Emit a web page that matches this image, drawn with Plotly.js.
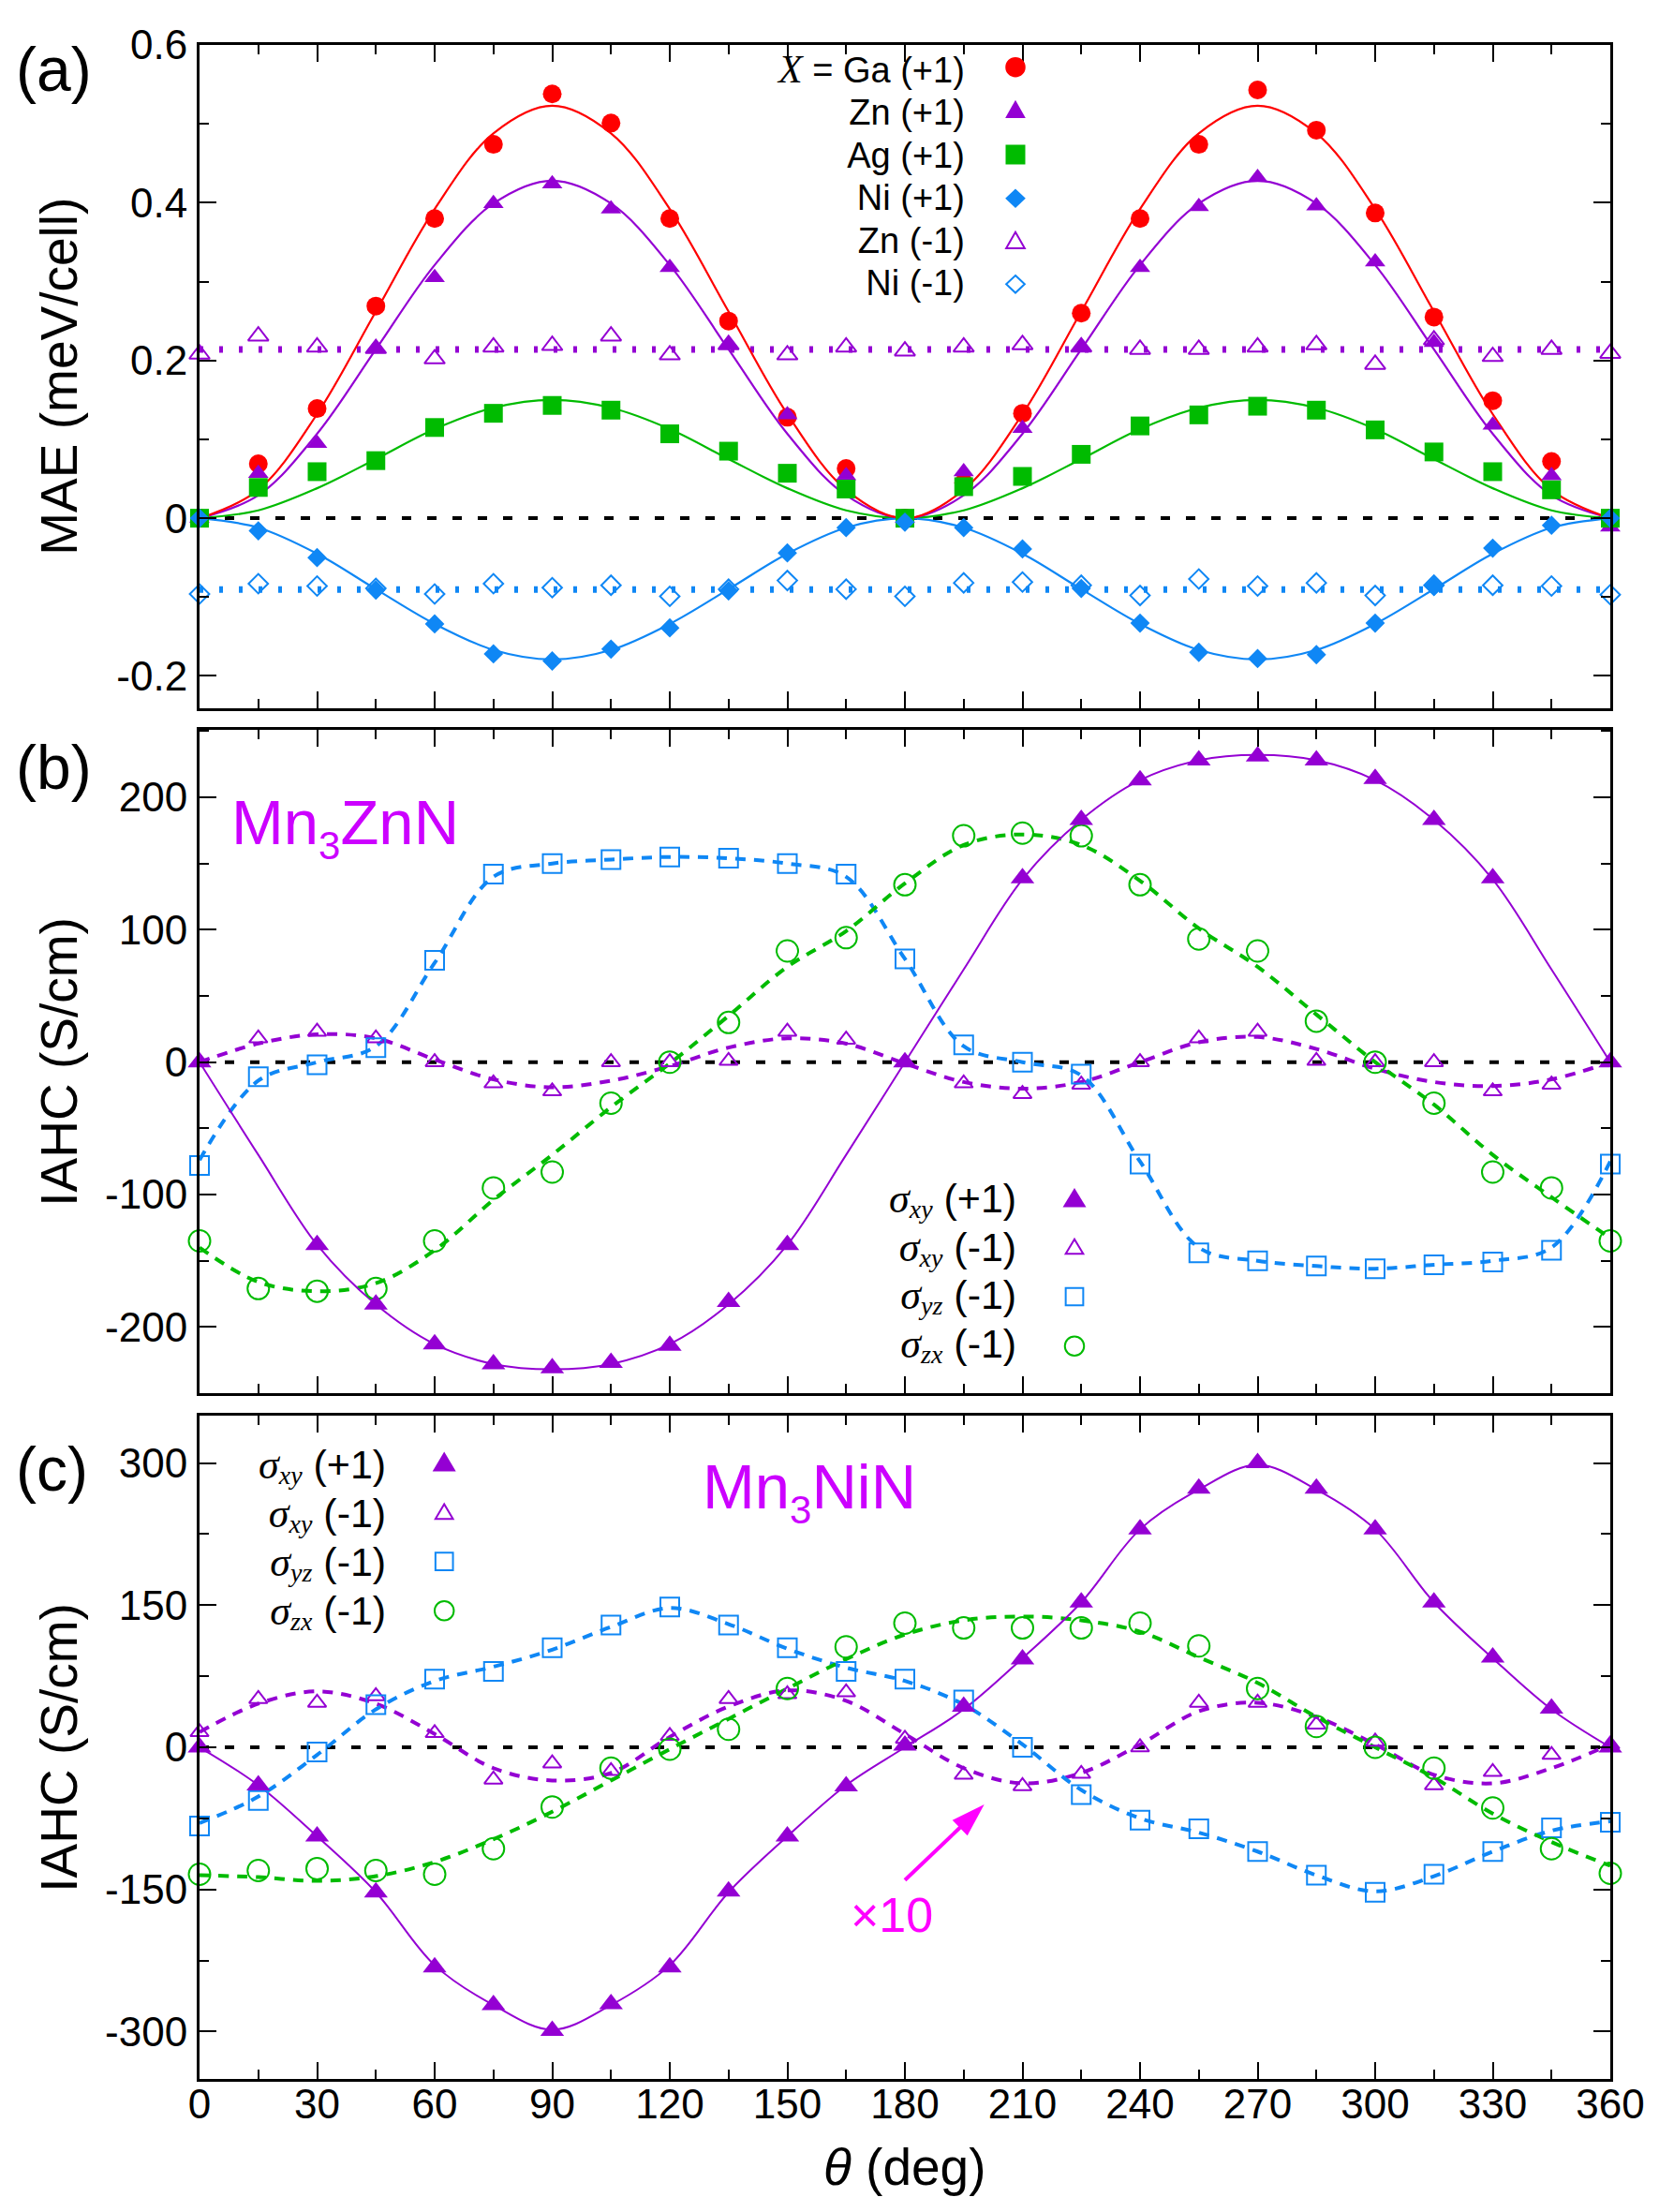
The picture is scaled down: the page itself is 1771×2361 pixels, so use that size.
<!DOCTYPE html>
<html>
<head>
<meta charset="utf-8">
<script src="https://cdn.plot.ly/plotly-3.0.1.min.js"></script>
<style>html,body{margin:0;padding:0;background:#fff;}#chart{width:1771px;height:2361px;}</style>
</head>
<body>
<div id="chart"></div>
<script>
// ---------------- data ----------------
const theta = [0,15,30,45,60,75,90,105,120,135,150,165,180,195,210,225,240,255,270,285,300,315,330,345,360];
const thetaEnds = [0, 360];
const thetaTicks = [0,30,60,90,120,150,180,210,240,270,300,330,360];
const thetaTickText = ['0','30','60','90','120','150','180','210','240','270','300','330','360'];

// (a) MAE (meV/cell)
const aTickVals = [-0.2, 0, 0.2, 0.4, 0.6];
const aTickText = ['-0.2', '0', '0.2', '0.4', '0.6'];
const aGaPlus  = [0,0.069,0.139,0.269,0.380,0.474,0.538,0.501,0.380,0.250,0.128,0.063,0,0.045,0.133,0.260,0.380,0.474,0.543,0.492,0.387,0.255,0.149,0.072,0];
const aZnPlus  = [0,0.057,0.095,0.215,0.305,0.399,0.424,0.392,0.318,0.220,0.131,0.054,0,0.059,0.114,0.217,0.318,0.395,0.432,0.396,0.325,0.223,0.118,0.054,-0.011];
const aAgPlus  = [0,0.039,0.059,0.073,0.115,0.133,0.143,0.137,0.107,0.085,0.057,0.037,0,0.040,0.053,0.081,0.117,0.131,0.142,0.137,0.112,0.084,0.059,0.036,0];
const aNiPlus  = [0,-0.016,-0.050,-0.091,-0.134,-0.172,-0.181,-0.166,-0.139,-0.092,-0.044,-0.012,-0.005,-0.012,-0.039,-0.089,-0.133,-0.170,-0.178,-0.173,-0.133,-0.086,-0.038,-0.009,0];
const aZnMinus = [0.208,0.231,0.217,0.215,0.202,0.217,0.219,0.231,0.207,0.220,0.207,0.217,0.212,0.217,0.220,0.217,0.214,0.214,0.217,0.220,0.195,0.226,0.205,0.214,0.209];
const aNiMinus = [-0.096,-0.083,-0.086,-0.089,-0.096,-0.083,-0.088,-0.085,-0.099,-0.090,-0.079,-0.090,-0.099,-0.082,-0.081,-0.085,-0.098,-0.077,-0.086,-0.082,-0.098,-0.085,-0.085,-0.086,-0.097];
const aGaFit = [0,0.036,0.132,0.262,0.392,0.488,0.523,0.488,0.392,0.262,0.132,0.036,0,0.036,0.132,0.262,0.392,0.488,0.523,0.488,0.392,0.262,0.132,0.036,0];
const aZnFit = [0,0.029,0.107,0.214,0.321,0.399,0.428,0.399,0.321,0.214,0.107,0.029,0,0.029,0.107,0.214,0.321,0.399,0.428,0.399,0.321,0.214,0.107,0.029,0];
const aAgFit = [0,0.010,0.038,0.075,0.113,0.140,0.150,0.140,0.113,0.075,0.038,0.010,0,0.010,0.038,0.075,0.113,0.140,0.150,0.140,0.113,0.075,0.038,0.010,0];
const aNiFit = [0,-0.012,-0.045,-0.090,-0.134,-0.167,-0.179,-0.167,-0.134,-0.090,-0.045,-0.012,0,-0.012,-0.045,-0.090,-0.134,-0.167,-0.179,-0.167,-0.134,-0.090,-0.045,-0.012,0];
const aZnMinusMean = [0.214, 0.214];
const aNiMinusMean = [-0.0905, -0.0905];
const aLegendLabels = ['Ga (+1)', 'Zn (+1)', 'Ag (+1)', 'Ni (+1)', 'Zn (-1)', 'Ni (-1)'];

// (b) Mn3ZnN IAHC (S/cm)
const bTickVals = [-200, -100, 0, 100, 200];
const bTickText = ['-200', '-100', '0', '100', '200'];
const bSxyPlus  = [0,null,-138,-183,-213,-228,-231,-227,-214,-181,-138,null,0,null,139,183,213,228,231,228,214,183,139,null,0];
const bSxyMinus = [0,18,23,18,0,-16,-22,0,0,1,23,17,0,-16,-24,-17,0,18,23,1,0,0,-22,-17,0];
const bSyzMinus = [-78,-11,-2,11,77,142,150,153,155,154,150,142,78,13,0,-9,-77,-144,-150,-154,-156,-153,-151,-142,-77];
const bSzxMinus = [-135,-171,-173,-171,-135,-95,-83,-31,0,30,84,94,134,171,173,171,134,93,84,31,0,-31,-83,-95,-135];
const bSxyPlusFit  = [0,-70,-138,-183,-213,-228,-232,-228,-213,-183,-138,-70,0,70,138,183,213,228,232,228,213,183,138,70,0];
const bSxyMinusFit = [0,14,21,18,2,-13,-19,-14,-3,11,18,14,-1,-15,-20,-15,0,15,19,10,-5,-15,-18,-13,0];
const bSyzMinusFit = [-74,-14,0,12,75,140,150,153,155,154,150,140,78,12,0,-10,-75,-140,-150,-154,-156,-153,-150,-140,-75];
const bSzxMinusFit = [-140,-166,-173,-167,-142,-104,-70,-34,-1,35,72,99,135,164,172,164,137,101,72,36,0,-32,-70,-102,-133];

// (c) Mn3NiN IAHC (S/cm)
const cTickVals = [-300, -150, 0, 150, 300];
const cTickText = ['-300', '-150', '0', '150', '300'];
const cSxyPlus  = [0,-40,-94,-153,-232,-272,-299,-271,-232,-152,-94,-41,2,43,93,153,230,273,300,273,230,153,95,41,0];
const cSxyMinus = [16,51,47,54,15,-34,-17,-25,12,51,56,58,9,-29,-41,-28,0,47,47,24,6,-40,-26,-8,3];
const cSyzMinus = [-83,-56,-5,45,72,80,105,129,148,129,105,80,72,50,0,-50,-77,-86,-110,-135,-153,-134,-110,-85,-79];
const cSzxMinus = [-134,-130,-128,-130,-134,-107,-63,-22,-2,19,62,106,131,126,126,126,131,107,62,22,0,-22,-64,-107,-133];
const cSxyPlusFit  = [0,-40,-94,-153,-230,-272,-298,-272,-230,-153,-94,-40,0,40,94,153,230,272,298,272,230,153,94,40,0];
const cSxyMinusFit = [16,46,59,46,14,-22,-35,-27,11,43,60,49,14,-22,-38,-27,3,38,47,32,3,-29,-38,-22,3];
const cSyzMinusFit = [-80,-52,-8,40,70,85,103,127,147,130,104,84,70,45,3,-45,-75,-90,-110,-135,-152,-136,-110,-88,-78];
const cSzxMinusFit = [-135,-137,-141,-136,-121,-97,-68,-35,-2,30,62,93,119,134,138,134,122,95,68,32,0,-32,-70,-100,-125];

const sigmaComponents = ['xy', 'xy', 'yz', 'zx'];
const sigmaSigns = ['(+1)', '(-1)', '(-1)', '(-1)'];

// ---------------- styles ----------------
const FONT = 'Liberation Sans, Arial, Helvetica, sans-serif';
const SERIF = 'Liberation Serif, Times New Roman, serif';
const RED = '#ff0000', PURPLE = '#9400d3', GREEN = '#00bb00', BLUE = '#0f87f5';
const LABEL_MAGENTA = '#cc00ff', PINK = '#ff00ff';

function fitLine(name, y, xa, ya, color, width, dash, x) {
  return {type:'scatter', mode:'lines', name: name, x: x || theta, y: y, xaxis: xa, yaxis: ya,
    line:{color:color, width:width, dash:dash || 'solid', shape: x ? 'linear' : 'spline', smoothing:1},
    showlegend:false, hoverinfo:'skip', cliponaxis:false};
}
function points(name, y, xa, ya, symbol, size, color) {
  const open = symbol.indexOf('open') >= 0;
  return {type:'scatter', mode:'markers', name: name, x: theta, y: y, xaxis: xa, yaxis: ya,
    marker:{symbol:symbol, size:size, color:color, line:{color:color, width: open ? 2 : 0}},
    showlegend:false, hoverinfo:'skip', cliponaxis:false};
}

const DOT = '4px,17px';
const DASH = '11px,9px';
const traces = [
  // (a)
  fitLine('Zn (-1) mean', aZnMinusMean, 'x', 'y', PURPLE, 7, DOT, thetaEnds),
  fitLine('Ni (-1) mean', aNiMinusMean, 'x', 'y', BLUE, 7, DOT, thetaEnds),
  fitLine('Ag (+1) fit', aAgFit, 'x', 'y', GREEN, 2.2),
  fitLine('Ni (+1) fit', aNiFit, 'x', 'y', BLUE, 2.2),
  fitLine('Zn (+1) fit', aZnFit, 'x', 'y', PURPLE, 2.2),
  fitLine('Ga (+1) fit', aGaFit, 'x', 'y', RED, 2.2),
  points('Zn (-1)', aZnMinus, 'x', 'y', 'triangle-up-open', 19, PURPLE),
  points('Ni (-1)', aNiMinus, 'x', 'y', 'diamond-open', 16, BLUE),
  points('Ga (+1)', aGaPlus, 'x', 'y', 'circle', 20, RED),
  points('Zn (+1)', aZnPlus, 'x', 'y', 'triangle-up', 19, PURPLE),
  points('Ag (+1)', aAgPlus, 'x', 'y', 'square', 20, GREEN),
  points('Ni (+1)', aNiPlus, 'x', 'y', 'diamond', 16, BLUE),
  // (b)
  fitLine('σxy (-1) fit', bSxyMinusFit, 'x2', 'y2', PURPLE, 4, DASH),
  fitLine('σyz (-1) fit', bSyzMinusFit, 'x2', 'y2', BLUE, 4, DASH),
  fitLine('σzx (-1) fit', bSzxMinusFit, 'x2', 'y2', GREEN, 4, DASH),
  fitLine('σxy (+1) fit', bSxyPlusFit, 'x2', 'y2', PURPLE, 2),
  points('σxy (-1)', bSxyMinus, 'x2', 'y2', 'triangle-up-open', 17, PURPLE),
  points('σyz (-1)', bSyzMinus, 'x2', 'y2', 'square-open', 20, BLUE),
  points('σzx (-1)', bSzxMinus, 'x2', 'y2', 'circle-open', 23, GREEN),
  points('σxy (+1)', bSxyPlus, 'x2', 'y2', 'triangle-up', 22, PURPLE),
  // (c)
  fitLine('σxy (-1) fit', cSxyMinusFit, 'x3', 'y3', PURPLE, 4, DASH),
  fitLine('σyz (-1) fit', cSyzMinusFit, 'x3', 'y3', BLUE, 4, DASH),
  fitLine('σzx (-1) fit', cSzxMinusFit, 'x3', 'y3', GREEN, 4, DASH),
  fitLine('σxy (+1) fit', cSxyPlusFit, 'x3', 'y3', PURPLE, 2),
  points('σxy (-1) ×10', cSxyMinus, 'x3', 'y3', 'triangle-up-open', 17, PURPLE),
  points('σyz (-1)', cSyzMinus, 'x3', 'y3', 'square-open', 20, BLUE),
  points('σzx (-1)', cSzxMinus, 'x3', 'y3', 'circle-open', 23, GREEN),
  points('σxy (+1)', cSxyPlus, 'x3', 'y3', 'triangle-up', 22, PURPLE)
];

// ---------------- axes ----------------
const tickFont = {family: FONT, size: 44, color: '#000'};
function xAxis(anchor, showLabels) {
  return {anchor: anchor, domain:[0,1], range:[0,360], tickmode:'array', tickvals: thetaTicks, ticktext: thetaTickText,
    showticklabels: showLabels, tickfont: tickFont, ticks:'inside', ticklen:18, tickwidth:2, tickcolor:'#000',
    minor:{ticks:'inside', ticklen:10, tickwidth:2, tickcolor:'#000', tick0:0, dtick:15},
    showline:true, linewidth:3, linecolor:'#000', mirror:'allticks', showgrid:false, zeroline:false,
    ticklabelstandoff: -14, fixedrange:true};
}
function yAxis(anchor, domain, range, vals, text, minorStep) {
  return {anchor: anchor, domain: domain, range: range, tickmode:'array', tickvals: vals, ticktext: text,
    tickfont: tickFont, ticks:'inside', ticklen:18, tickwidth:2, tickcolor:'#000',
    minor:{ticks:'inside', ticklen:10, tickwidth:2, tickcolor:'#000', tick0:0, dtick:minorStep},
    showline:true, linewidth:3, linecolor:'#000', mirror:'allticks', showgrid:false, zeroline:false,
    ticklabelstandoff: 1, fixedrange:true};
}

function zeroLine(xa, ya) {
  return {type:'line', xref: xa + ' domain', x0:0, x1:1, yref: ya, y0:0, y1:0, layer:'below',
    line:{color:'#000', width:4, dash:'10px,17px'}};
}

// legend keys (fixed-size pixel shapes to the right of the legend labels)
function key(ax, xd, yd, kind, color, w, h, open) {
  const s = {xref: 'x' + ax + ' domain', yref: 'y' + ax + ' domain', xsizemode:'pixel', ysizemode:'pixel',
    xanchor: xd, yanchor: yd, layer:'above',
    fillcolor: open ? 'rgba(0,0,0,0)' : color,
    line: open ? {color: color, width: 2} : {width: 0}};
  const hw = w / 2, hh = h / 2;
  if (kind === 'circle' || kind === 'square') {
    s.type = kind === 'circle' ? 'circle' : 'rect';
    s.x0 = -hw; s.x1 = hw; s.y0 = -hh; s.y1 = hh;
  } else if (kind === 'triangle') {
    s.type = 'path'; s.path = 'M' + (-hw) + ',' + (-hh) + ' L' + hw + ',' + (-hh) + ' L0,' + hh + ' Z';
  } else {
    s.type = 'path'; s.path = 'M0,' + hh + ' L' + hw + ',0 L0,' + (-hh) + ' L' + (-hw) + ',0 Z';
  }
  return s;
}
const keyShapes = [
  key('', 0.57835, 0.96653, 'circle', RED, 21.5, 21.5),
  key('', 0.57835, 0.90353, 'triangle', PURPLE, 21.7, 19.3),
  key('', 0.57835, 0.83475, 'square', GREEN, 21, 21),
  key('', 0.57835, 0.76879, 'diamond', BLUE, 21.7, 20.5),
  key('', 0.57835, 0.70579, 'triangle', PURPLE, 19.7, 17.3, true),
  key('', 0.57835, 0.63941, 'diamond', BLUE, 19.7, 18.5, true),
  key('2', 0.62019, 0.29477, 'triangle', PURPLE, 25, 20.5),
  key('2', 0.62019, 0.22105, 'triangle', PURPLE, 18.7, 15.7, true),
  key('2', 0.62019, 0.14548, 'square', BLUE, 18.7, 18.7, true),
  key('2', 0.62019, 0.07105, 'circle', GREEN, 20.5, 20.5, true),
  key('3', 0.17344, 0.93079, 'triangle', PURPLE, 25, 21),
  key('3', 0.17344, 0.85551, 'triangle', PURPLE, 18.7, 15.7, true),
  key('3', 0.17344, 0.78008, 'square', BLUE, 18.7, 18.7, true),
  key('3', 0.17344, 0.70579, 'circle', GREEN, 20.5, 20.5, true)
];

// "x10" arrow: shaft and head as pixel shapes anchored at the arrow tip
const arrowTip = {xref:'x3 domain', yref:'y3 domain', xsizemode:'pixel', ysizemode:'pixel', xanchor:0.55624, yanchor:0.41384, layer:'above'};
const arrowShapes = [
  Object.assign({type:'line', x0:-84.7, y0:-80.7, x1:-22, y1:-21, line:{color:PINK, width:4}}, arrowTip),
  Object.assign({type:'path', path:'M0,0 L-34,-16.7 L-18,-33.3 Z', fillcolor:PINK, line:{width:0}}, arrowTip)
];

function txt(xref, yref, x, y, text, size, extra) {
  return Object.assign({xref: xref, yref: yref, x: x, y: y, text: text, showarrow:false,
    xanchor:'center', yanchor:'middle', font:{family: FONT, size: size, color:'#000'}}, extra || {});
}
// subscripts are lowered with baseline-shift (no extra zero-width text pieces)
const lowered = (px, shift, s, extraCss) => '<span style="font-size:' + px + 'px;baseline-shift:-' + shift + 'px' + (extraCss || '') + '">' + s + '</span>';
const big = (px, s) => '<span style="font-size:' + px + 'px">' + s + '</span>';
const serifItalic = (px, s) => '<span style="font-family:' + SERIF + ';font-style:italic;font-size:' + px + 'px">' + s + '</span>';
const sigmaLine = (i) => big(43, serifItalic(44, 'σ') +
  lowered(28, 5.5, sigmaComponents[i], ';font-family:' + SERIF + ';font-style:italic') + ' ' + sigmaSigns[i]);

const aLegendText = aLegendLabels.map((s, i) => big(38, (i === 0 ? serifItalic(42, 'X') + ' = ' : '') + s)).join('<br>');
const sigmaLegendText = sigmaComponents.map((c, i) => sigmaLine(i)).join('<br>');

const annotations = [
  // panel labels
  txt('x domain', 'y domain', -0.1033, 0.9634, '(a)', 66),
  txt('x2 domain', 'y2 domain', -0.1033, 0.9442, '(b)', 66),
  txt('x3 domain', 'y3 domain', -0.1043, 0.9191, '(c)', 66),
  // axis titles
  txt('x domain', 'y domain', -0.0998, 0.5, 'MAE (meV/cell)', 55, {textangle:-90}),
  txt('x2 domain', 'y2 domain', -0.0998, 0.5, 'IAHC (S/cm)', 55, {textangle:-90}),
  txt('x3 domain', 'y3 domain', -0.0998, 0.5, 'IAHC (S/cm)', 55, {textangle:-90}),
  txt('x3 domain', 'y3 domain', 0.5, -0.1328, '<i>θ</i> (deg)', 55),
  // legend labels
  txt('x domain', 'y domain', 0.5436, 0.80325, aLegendText, 34.92, {xanchor:'right', align:'right'}),
  txt('x2 domain', 'y2 domain', 0.5801, 0.18249, sigmaLegendText, 39.75, {xanchor:'right', align:'right'}),
  txt('x3 domain', 'y3 domain', 0.1337, 0.81554, sigmaLegendText, 39.95, {xanchor:'right', align:'right'}),
  // compound labels
  txt('x2 domain', 'y2 domain', 0.02125, 0.853, 'Mn' + lowered(42, 16, '3') + 'ZnN', 67, {xanchor:'left', font:{family:FONT, size:67, color:LABEL_MAGENTA}}),
  txt('x3 domain', 'y3 domain', 0.3552, 0.885, 'Mn' + lowered(42, 16, '3') + 'NiN', 67, {xanchor:'left', font:{family:FONT, size:67, color:LABEL_MAGENTA}}),
  // x10 note
  txt('x3 domain', 'y3 domain', 0.4904, 0.2472, '×10', 52, {font:{family:FONT, size:52, color:PINK}})
];

const layout = {
  width:1771, height:2361, paper_bgcolor:'#fff', plot_bgcolor:'#fff',
  margin:{l:213, r:52, t:48, b:142, pad:0, autoexpand:false},
  font:{family: FONT, color:'#000'},
  hovermode:false, showlegend:false,
  xaxis: xAxis('y', false),
  xaxis2: xAxis('y2', false),
  xaxis3: xAxis('y3', true),
  yaxis: yAxis('x', [0.67388, 1], [-0.241, 0.6], aTickVals, aTickText, 0.1),
  yaxis2: yAxis('x2', [0.33717, 0.66329], [-250, 251], bTickVals, bTickText, 50),
  yaxis3: yAxis('x3', [0, 0.32612], [-350, 350], cTickVals, cTickText, 75),
  shapes: [zeroLine('x','y'), zeroLine('x2','y2'), zeroLine('x3','y3')].concat(keyShapes, arrowShapes),
  annotations: annotations
};

Plotly.newPlot('chart', traces, layout, {staticPlot:true, displayModeBar:false});
</script>
</body>
</html>
